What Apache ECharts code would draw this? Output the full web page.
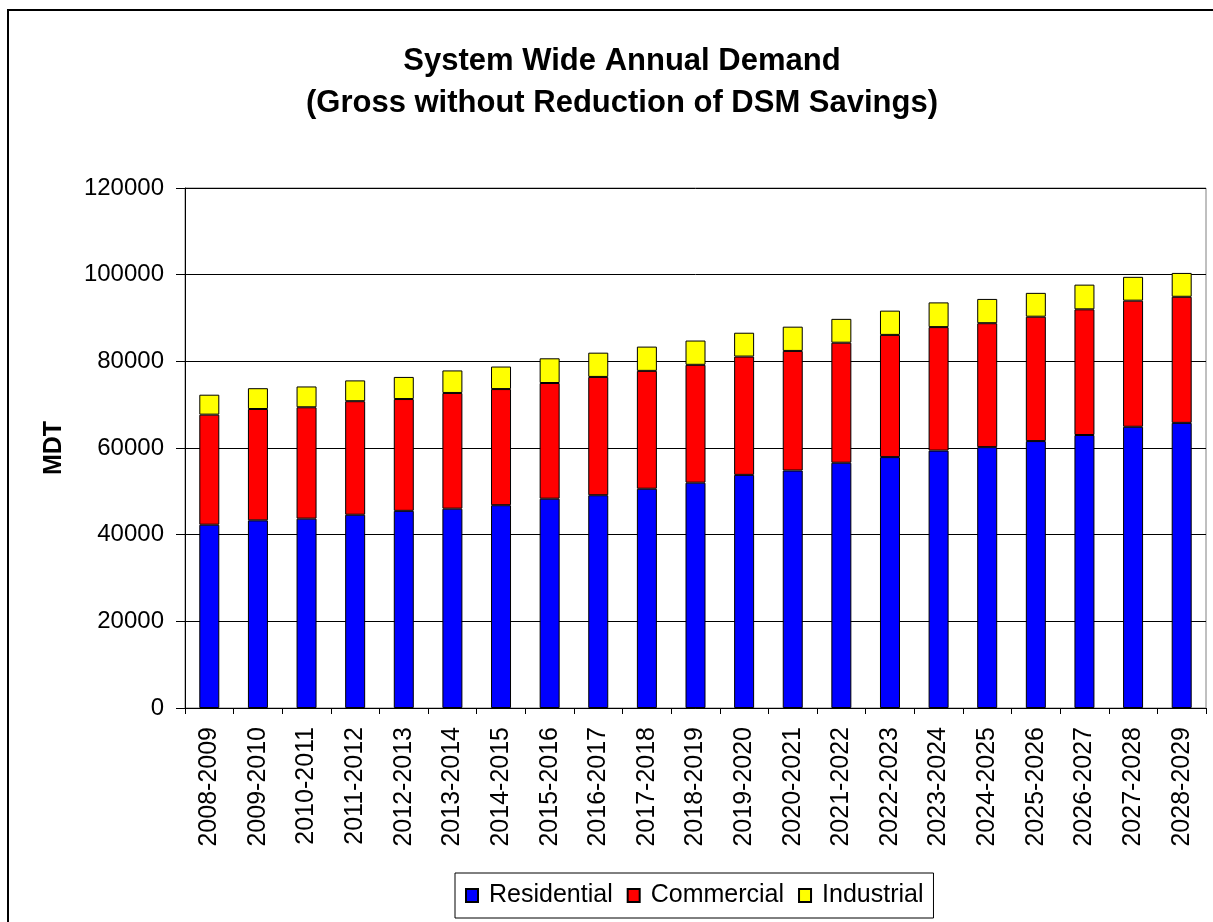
<!DOCTYPE html>
<html>
<head>
<meta charset="utf-8">
<title>System Wide Annual Demand</title>
<script src="https://cdn.jsdelivr.net/npm/echarts@6/dist/echarts.min.js"></script>
<style>
  html, body { margin: 0; padding: 0; background: #ffffff; }
  #chart { width: 1213px; height: 922px; }
</style>
</head>
<body>
<div id="chart"></div>
<script>
// Fiscal years shown along the horizontal axis
const years = [
  '2008-2009', '2009-2010', '2010-2011', '2011-2012', '2012-2013', '2013-2014',
  '2014-2015', '2015-2016', '2016-2017', '2017-2018', '2018-2019', '2019-2020',
  '2020-2021', '2021-2022', '2022-2023', '2023-2024', '2024-2025', '2025-2026',
  '2026-2027', '2027-2028', '2028-2029'
];

// Annual demand by customer class (MDT)
const residential = [
  42300, 43300, 43700, 44600, 45500, 46000, 46800, 48300, 49100, 50600, 52000,
  53800, 54800, 56600, 57900, 59400, 60200, 61600, 63000, 64900, 65800
];
const commercial = [
  25400, 25700, 25700, 26200, 25800, 26700, 26800, 26700, 27300, 27200, 27200,
  27300, 27600, 27700, 28200, 28500, 28600, 28700, 29000, 29100, 29100
];
const industrial = [
  4600, 4800, 4800, 4800, 5100, 5200, 5200, 5700, 5600, 5600, 5600,
  5500, 5600, 5500, 5600, 5700, 5600, 5500, 5700, 5500, 5500
];

const FONT = 'Arial, "Liberation Sans", sans-serif';

function stackSeries(name, data, color) {
  return {
    name: name,
    type: 'bar',
    stack: 'demand',
    data: data,
    barWidth: 20,
    itemStyle: { color: color, borderColor: '#000000', borderWidth: 1 },
    emphasis: { disabled: true }
  };
}

const chart = echarts.init(document.getElementById('chart'), null, { renderer: 'canvas' });

chart.setOption({
  animation: false,
  backgroundColor: '#ffffff',
  textStyle: { fontFamily: FONT, color: '#000000' },
  title: {
    text: 'System Wide Annual Demand\n(Gross without Reduction of DSM Savings)',
    left: 622,
    top: 40,
    textAlign: 'center',
    padding: 0,
    textStyle: {
      fontFamily: FONT,
      fontSize: 31,
      fontWeight: 'bold',
      lineHeight: 42,
      color: '#000000'
    }
  },
  grid: {
    left: 185,
    top: 188,
    right: 7,
    bottom: 214,
    show: true,
    borderColor: '#808080',
    borderWidth: 1,
    backgroundColor: 'transparent'
  },
  legend: {
    left: 455,
    top: 873,
    orient: 'horizontal',
    padding: [10, 10, 10, 10],
    borderColor: '#000000',
    borderWidth: 1,
    itemWidth: 12,
    itemHeight: 13,
    itemGap: 14,
    icon: 'rect',
    textStyle: { fontFamily: FONT, fontSize: 25, color: '#000000', padding: [0, 0, 0, 6] },
    data: ['Residential', 'Commercial', 'Industrial']
  },
  xAxis: {
    type: 'category',
    data: years,
    boundaryGap: true,
    axisLine: { lineStyle: { color: '#000000', width: 1 } },
    axisTick: { show: true, alignWithLabel: false, length: 6, lineStyle: { color: '#000000' } },
    axisLabel: {
      rotate: 90,
      interval: 0,
      margin: 19,
      fontFamily: FONT,
      fontSize: 25,
      color: '#000000'
    },
    splitLine: { show: false }
  },
  yAxis: {
    type: 'value',
    min: 0,
    max: 120000,
    interval: 20000,
    name: 'MDT',
    nameLocation: 'middle',
    nameRotate: 90,
    nameGap: 118,
    nameTextStyle: { fontFamily: FONT, fontSize: 25, fontWeight: 'bold', color: '#000000' },
    axisLine: { show: true, lineStyle: { color: '#000000', width: 1 } },
    axisTick: { show: true, inside: false, length: 9, lineStyle: { color: '#000000' } },
    axisLabel: {
      margin: 21,
      fontFamily: FONT,
      fontSize: 24,
      color: '#000000',
      formatter: function (v) { return String(v); }
    },
    splitLine: { show: true, lineStyle: { color: '#000000', width: 1 } }
  },
  graphic: [
    {
      type: 'rect',
      silent: true,
      shape: { x: 8, y: 10, width: 1300, height: 1000 },
      style: { fill: 'none', stroke: '#000000', lineWidth: 2 }
    }
  ],
  series: [
    stackSeries('Residential', residential, '#0000ff'),
    stackSeries('Commercial', commercial, '#ff0000'),
    stackSeries('Industrial', industrial, '#ffff00')
  ]
});
</script>
</body>
</html>
